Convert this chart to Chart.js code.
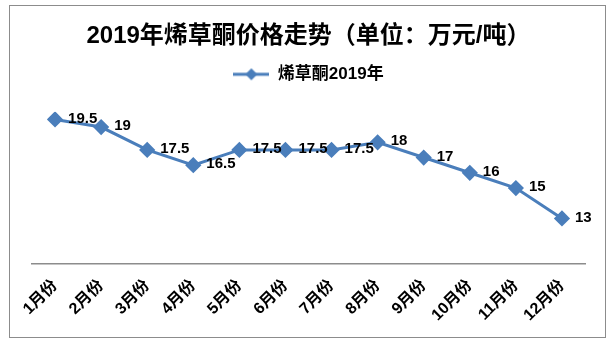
<!DOCTYPE html>
<html>
<head>
<meta charset="utf-8">
<script src="https://cdn.jsdelivr.net/npm/chart.js@4.4.1/dist/chart.umd.min.js"></script>
<style>
  html, body { margin: 0; padding: 0; background: #fff; }
  #box {
    position: absolute; left: 9px; top: 5px;
    width: 595px; height: 331px;
    border: 1px solid #8c8c8c;
  }
</style>
</head>
<body>
<div id="box"><canvas id="chart"></canvas></div>
<script>
// 2019年烯草酮价格 (万元/吨)
var months = ['1月份', '2月份', '3月份', '4月份', '5月份', '6月份',
              '7月份', '8月份', '9月份', '10月份', '11月份', '12月份'];
var prices = [19.5, 19, 17.5, 16.5, 17.5, 17.5, 17.5, 18, 17, 16, 15, 13];

var fontFamily = '"Liberation Sans", "Noto Sans CJK SC", sans-serif';
var lineColor = '#4a7ebb';

// legend marker: line with a diamond in the middle
var legendMark = document.createElement('canvas');
legendMark.width = 36;
legendMark.height = 14;
(function() {
  var c = legendMark.getContext('2d');
  c.strokeStyle = lineColor;
  c.lineWidth = 3;
  c.beginPath();
  c.moveTo(0, 7);
  c.lineTo(36, 7);
  c.stroke();
  c.fillStyle = lineColor;
  c.beginPath();
  c.moveTo(18, 1);
  c.lineTo(24, 7);
  c.lineTo(18, 13);
  c.lineTo(12, 7);
  c.closePath();
  c.fill();
})();

// more room under the legend
var legendGap = {
  id: 'legendGap',
  beforeInit: function(chart) {
    var fit = chart.legend.fit;
    chart.legend.fit = function() {
      fit.call(this);
      this.height += 19;
    };
  }
};

// draw value next to each point
var valueLabels = {
  id: 'valueLabels',
  afterDatasetsDraw: function(chart) {
    var ctx = chart.ctx;
    var meta = chart.getDatasetMeta(0);
    ctx.save();
    ctx.font = 'bold 15px ' + fontFamily;
    ctx.fillStyle = '#000';
    ctx.textAlign = 'left';
    ctx.textBaseline = 'middle';
    meta.data.forEach(function(pt, i) {
      ctx.fillText(String(prices[i]), pt.x + 13, pt.y - 1);
    });
    ctx.restore();
  }
};

var ctx = document.getElementById('chart');
var myChart = new Chart(ctx, {
  type: 'line',
  data: {
    labels: months,
    datasets: [{
      label: '烯草酮2019年',
      data: prices,
      borderColor: lineColor,
      backgroundColor: lineColor,
      borderWidth: 3,
      pointStyle: 'rectRot',
      pointRadius: 6,
      pointHoverRadius: 6,
      tension: 0,
      fill: false
    }]
  },
  options: {
    responsive: true,
    maintainAspectRatio: false,
    animation: false,
    layout: { padding: { left: 22, right: 20, top: 12, bottom: 0 } },
    plugins: {
      title: {
        display: true,
        text: '2019年烯草酮价格走势（单位：万元/吨）',
        color: '#000',
        font: { family: fontFamily, size: 24, weight: 'bold' },
        padding: { top: 4, bottom: 1 }
      },
      legend: {
        display: true,
        labels: {
          color: '#000',
          font: { family: fontFamily, size: 17, weight: 'bold' },
          usePointStyle: true,
          pointStyle: legendMark,
          pointStyleWidth: 36,
          padding: 14
        }
      },
      tooltip: { enabled: false }
    },
    scales: {
      x: {
        offset: true,
        grid: { display: false, drawTicks: false },
        border: { display: true, color: '#8c8c8c', width: 1.5 },
        ticks: {
          color: '#000',
          font: { family: fontFamily, size: 16, weight: 'bold' },
          minRotation: 45,
          maxRotation: 45,
          padding: 12
        }
      },
      y: {
        display: false,
        min: 10,
        max: 20
      }
    }
  },
  plugins: [legendGap, valueLabels]
});
</script>
</body>
</html>
